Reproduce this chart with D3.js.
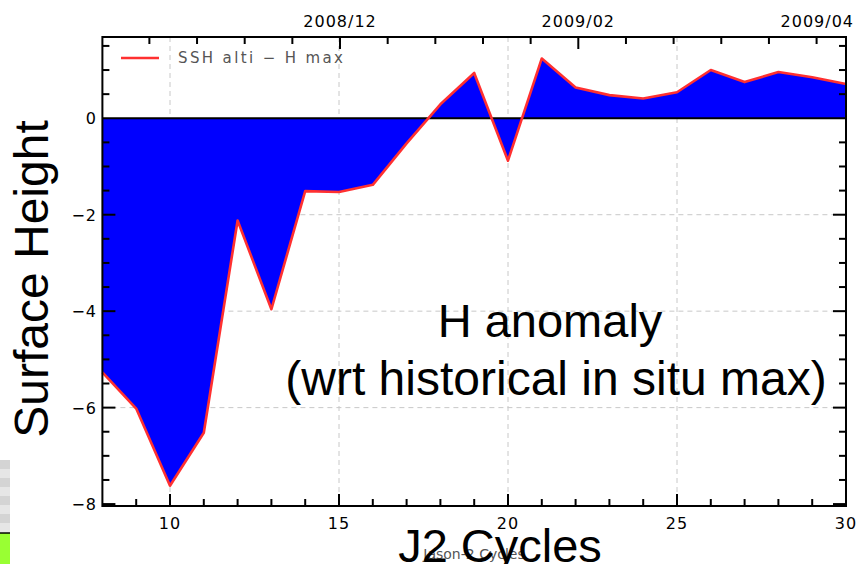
<!DOCTYPE html>
<html><head><meta charset="utf-8">
<script src="https://cdn.jsdelivr.net/npm/d3@7/dist/d3.min.js"></script>
<style>body{margin:0;background:#fff;}svg{display:block;}</style>
</head><body>
<svg id="c" width="858" height="564"></svg>
<script>
const cycles = [8,9,10,11,12,13,14,15,16,17,18,19,20,21,22,23,24,25,26,27,28,29,30];
const values = [-5.27,-6.02,-7.62,-6.52,-2.12,-3.96,-1.51,-1.53,-1.38,-0.52,0.29,0.94,-0.88,1.24,0.64,0.48,0.41,0.54,1.0,0.75,0.96,0.85,0.71];
const xTickLabels = [10,15,20,25,30];
const yTickLabels = [0,-2,-4,-6,-8];
const topMajorCycles = [15.03,22.08,29.15];
const topLabels = ["2008/12","2009/02","2009/04"];
const legendLabel = "SSH alti \u2212 H max";

const svg = d3.select("#c");
const L=102.4,R=846,T=37,B=506;
const x = d3.scaleLinear().domain([8,30]).range([L,R]);
const y = d3.scaleLinear().domain([-8.04,1.685]).range([B,T]);

// decoration on left edge
const deco = svg.append("g");
for(let i=0;i<8;i++){
  deco.append("rect").attr("x",0).attr("y",460+i*9).attr("width",10).attr("height",9)
    .attr("fill", i%2? "#e6e6e6":"#d4d4d4");
}
deco.append("rect").attr("x",0).attr("y",533).attr("width",10).attr("height",31).attr("fill","#99ff33");
deco.append("line").attr("x1",0).attr("x2",10).attr("y1",533).attr("y2",533).attr("stroke","#000").attr("stroke-width",1.5);

// gridlines
const grid = svg.append("g").attr("stroke","#c8c8c8").attr("stroke-dasharray","5,4").attr("stroke-width",1);
[10,15,20,25].forEach(v=>grid.append("line").attr("x1",x(v)).attr("x2",x(v)).attr("y1",T).attr("y2",B));
[-2,-4,-6].forEach(v=>grid.append("line").attr("x1",L).attr("x2",R).attr("y1",y(v)).attr("y2",y(v)));

// area fill
const pts = cycles.map((c,i)=>[c,values[i]]);
svg.append("path").datum(pts)
  .attr("d", d3.area().x(d=>x(d[0])).y0(y(0)).y1(d=>y(d[1])))
  .attr("fill","#0000ff");
// zero line
svg.append("line").attr("x1",L).attr("x2",R).attr("y1",y(0)).attr("y2",y(0)).attr("stroke","#000").attr("stroke-width",2);
// red line
svg.append("path").datum(pts)
  .attr("d", d3.line().x(d=>x(d[0])).y(d=>y(d[1])))
  .attr("fill","none").attr("stroke","#ff3030").attr("stroke-width",2.6).attr("stroke-linejoin","round");

// frame
svg.append("rect").attr("x",L).attr("y",T).attr("width",R-L).attr("height",B-T)
  .attr("fill","none").attr("stroke","#000").attr("stroke-width",2);

const tickFont = "'DejaVu Sans', sans-serif";
// bottom axis
const bAxis = svg.append("g").attr("transform",`translate(0,${B})`)
  .call(d3.axisBottom(x).tickValues(d3.range(8,31,1)).tickSize(0).tickFormat(""));
bAxis.select(".domain").remove();
const ticksG = svg.append("g").attr("stroke","#000").attr("stroke-width",2);
d3.range(9,30,1).forEach(v=>{
  const len = (v%5===0)?12:7;
  ticksG.append("line").attr("x1",x(v)).attr("x2",x(v)).attr("y1",B).attr("y2",B-len);
});
xTickLabels.forEach(v=>{
  svg.append("text").attr("x",x(v)).attr("y",529).attr("text-anchor","middle")
    .attr("font-family",tickFont).attr("font-size",16).attr("letter-spacing",1).text(v);
});
// left & right axes
d3.range(-8,1.6,0.5).forEach(v=>{
  if(Math.abs(v)<1e-9) return;
  const major = Math.abs(v%2)<1e-9;
  const len = major?13:7;
  ticksG.append("line").attr("x1",L).attr("x2",L+len).attr("y1",y(v)).attr("y2",y(v));
  ticksG.append("line").attr("x1",R).attr("x2",R-len).attr("y1",y(v)).attr("y2",y(v));
});
yTickLabels.forEach(v=>{
  svg.append("text").attr("x",97).attr("y",y(v)+6).attr("text-anchor","end")
    .attr("font-family",tickFont).attr("font-size",16).attr("letter-spacing",1)
    .text(v<0?"\u2212"+Math.abs(v):String(v));
});
// top axis
const topStep = (topMajorCycles[1]-topMajorCycles[0])/5;
let topTicks=[];
for(let c=topMajorCycles[0]-topStep*4;c<30.01;c+=topStep) topTicks.push(c);
topTicks.forEach(c=>{
  if(c<=8.05) return;
  const major = topMajorCycles.some(m=>Math.abs(m-c)<1e-6);
  ticksG.append("line").attr("x1",x(c)).attr("x2",x(c)).attr("y1",T).attr("y2",T+(major?12:7));
});
topMajorCycles.forEach((c,i)=>{
  svg.append("text").attr("x",x(c)).attr("y",26.5).attr("text-anchor","middle")
    .attr("font-family",tickFont).attr("font-size",16).attr("letter-spacing",1).text(topLabels[i]);
});

// legend
svg.append("line").attr("x1",121).attr("x2",159).attr("y1",58).attr("y2",58).attr("stroke","#ff3030").attr("stroke-width",2.6);
svg.append("text").attr("x",178).attr("y",63).attr("font-family",tickFont).attr("font-size",15)
  .attr("fill","#555").attr("textLength",165).attr("lengthAdjust","spacing").text(legendLabel);

// small axis title
svg.append("text").attr("x",474).attr("y",559).attr("text-anchor","middle")
  .attr("font-family",tickFont).attr("font-size",14).attr("fill","#555").text("Jason-2 Cycles");

// big overlay texts
const big = "'Liberation Sans', Arial, sans-serif";
svg.append("text").attr("transform","translate(48,279) rotate(-90)").attr("text-anchor","middle")
  .attr("font-family",big).attr("font-size",48).text("Surface Height");
svg.append("text").attr("x",550).attr("y",337).attr("text-anchor","middle")
  .attr("font-family",big).attr("font-size",47).text("H anomaly");
svg.append("text").attr("x",556).attr("y",395).attr("text-anchor","middle")
  .attr("font-family",big).attr("font-size",48).text("(wrt historical in situ max)");
svg.append("text").attr("x",500).attr("y",562).attr("text-anchor","middle")
  .attr("font-family",big).attr("font-size",47).text("J2 Cycles");
</script>
</body></html>
